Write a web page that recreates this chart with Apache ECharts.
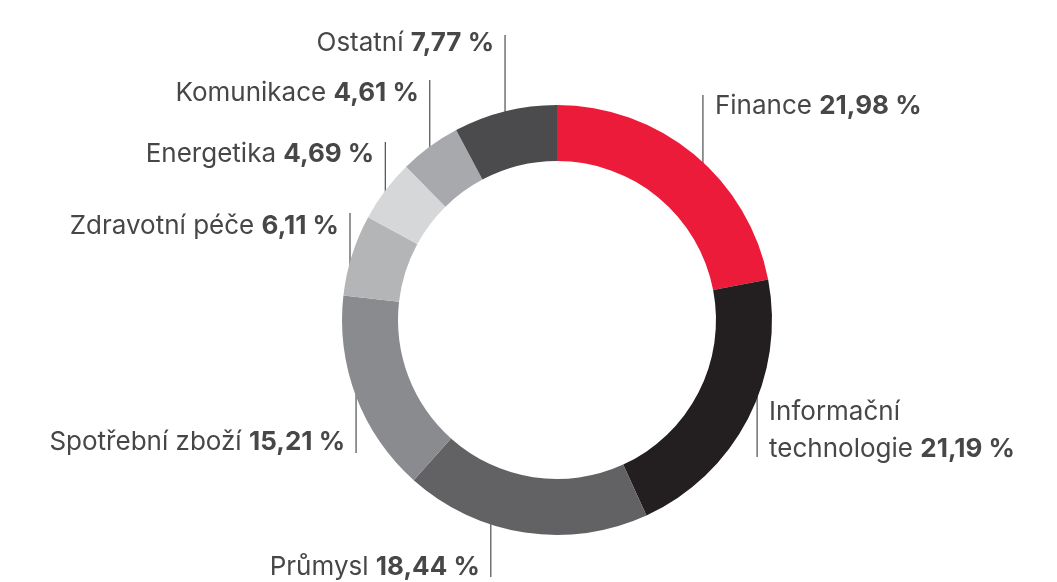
<!DOCTYPE html>
<html>
<head>
<meta charset="utf-8">
<script src="https://cdn.jsdelivr.net/npm/echarts@6/dist/echarts.min.js"></script>
<style>
  html, body { margin: 0; padding: 0; background: #fff; }
  #chart { width: 1057px; height: 582px; }
</style>
</head>
<body>
<div id="chart"></div>
<script>
// sektory (po směru hodinových ručiček od 12 h)
var sectors = ['Finance', 'Informační\ntechnologie', 'Průmysl', 'Spotřební zboží',
               'Zdravotní péče', 'Energetika', 'Komunikace', 'Ostatní'];
var shares = [21.98, 21.19, 18.44, 15.21, 6.11, 4.69, 4.61, 7.77];
var colors = ['#ed1b3a', '#231f20', '#626264', '#8a8b8f', '#b4b5b7', '#d6d7d8', '#a8a9ac', '#4b4b4d'];

// umístění popisků: strana, posun svislé čáry, střed textu, konec čáry
var labelSide = ['right', 'right', 'left', 'left', 'left', 'left', 'left', 'left'];
var lineShift = [9, 9, -34, 0, -2, 0, 0, 0];
var textMidY  = [106, 431, 567, 442, 226, 154, 93, 43];
var lineTipY  = [95, 457, 577, 453, 213, 142, 80, 35];

var CX = 557, CY = 320, R0 = 159, R = 215;

var chart = echarts.init(document.getElementById('chart'));

function fmt(v) {
    return v.toFixed(2).replace('.', ',') + ' %';
}

var option = {
    animation: false,
    series: [{
        type: 'pie',
        center: [CX, CY],
        radius: [R0, R],
        startAngle: 90,
        clockwise: true,
        silent: true,
        itemStyle: { borderWidth: 0 },
        label: {
            show: true,
            formatter: function (p) {
                var lines = p.name.split('\n').map(function (s) { return '{n|' + s + '}'; });
                lines[lines.length - 1] += '{n| }{v|' + fmt(p.value) + '}';
                return lines.join('\n');
            },
            rich: {
                n: { fontFamily: 'Inter', fontSize: 26, color: '#474747', lineHeight: 37 },
                v: { fontFamily: 'Inter', fontSize: 26, fontWeight: 'bold', color: '#474747', lineHeight: 37 }
            }
        },
        labelLine: {
            show: true,
            length: 0,
            length2: 0,
            lineStyle: { color: '#2a2a2a', width: 1 }
        },
        labelLayout: function (params) {
            var i = params.dataIndex;
            var pts = params.labelLinePoints;
            var lx = pts[0][0] + lineShift[i];
            var dx = lx - CX;
            var h = Math.sqrt(Math.max(R * R - dx * dx, 0));
            var up = lineTipY[i] < CY;
            var edgeY = up ? CY - h + 3 : CY + h - 3;
            var right = labelSide[i] === 'right';
            return {
                x: right ? lx + 12 : lx - 11,
                y: textMidY[i],
                align: right ? 'left' : 'right',
                verticalAlign: 'middle',
                labelLinePoints: [[lx, edgeY], [lx, lineTipY[i]], [lx, lineTipY[i]]]
            };
        },
        data: sectors.map(function (name, i) {
            return { name: name, value: shares[i], itemStyle: { color: colors[i] } };
        })
    }]
};

chart.setOption(option);
</script>
</body>
</html>
